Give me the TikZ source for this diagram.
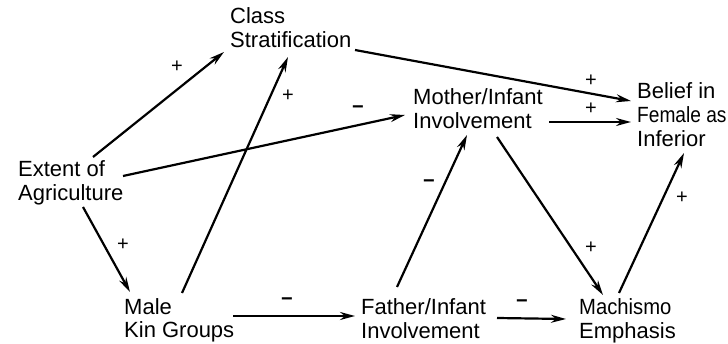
\documentclass[tikz,border=0pt]{standalone}
\usepackage{fontspec}
\setmainfont{Liberation Sans}
\newfontfamily\narrowA[FakeStretch=0.87]{Liberation Sans}
\newfontfamily\narrowB[FakeStretch=0.92]{Liberation Sans}
\usetikzlibrary{arrows.meta}
\begin{document}
\begin{tikzpicture}[x=1pt,y=-1pt,
  lbl/.style={inner sep=0pt,anchor=base west,align=left,font=\fontsize{22}{24}\selectfont},
  sgn/.style={inner sep=0pt,font=\fontsize{20}{20}\selectfont},
  neg/.style={inner sep=0pt,font=\fontsize{20}{20}\selectfont\bfseries},
  arr/.style={line width=2.2pt,-{Stealth[length=15pt,width=8pt]}}]
\useasboundingbox[fill=white] (0,0) rectangle (728,344);
% concepts (anchor = baseline of last line)
\node[lbl] (cls)  at (230,48)  {Class\\Stratification};
\node[lbl] (ext)  at (18,201)  {Extent of\\Agriculture};
\node[lbl] (mot)  at (413,129) {Mother/Infant\\Involvement};
\node[lbl] (bel)  at (637,147) {Belief in\\{\narrowA\fontsize{22}{24}\selectfont Female as}\\Inferior};
\node[lbl] (male) at (124,338) {Male\\Kin Groups};
\node[lbl] (fat)  at (361,339) {Father/Infant\\Involvement};
\node[lbl] (mach) at (579,339) {{\narrowB\fontsize{22}{24}\selectfont Machismo}\\Emphasis};
% connectors
\draw[arr] ([shift={(75,-44)}]ext.base west) -- ([shift={(-6,4)}]cls.base west);
\draw[arr] ([shift={(58,-45)}]male.base west) -- ([shift={(58,9)}]cls.base west);
\draw[arr] ([shift={(125,2)}]cls.base west) -- ([shift={(-6,-46)}]bel.base west);
\draw[arr] ([shift={(105,-25)}]ext.base west) -- ([shift={(-8,-14)}]mot.base west);
\draw[arr] ([shift={(65,6)}]ext.base west) -- ([shift={(6,-46)}]male.base west);
\draw[arr] ([shift={(109,-22)}]male.base west) -- ([shift={(-6,-23)}]fat.base west);
\draw[arr] ([shift={(36,-52)}]fat.base west) -- ([shift={(54,6)}]mot.base west);
\draw[arr] ([shift={(84,8)}]mot.base west) -- ([shift={(24,-44)}]mach.base west);
\draw[arr] ([shift={(136,-7)}]mot.base west) -- ([shift={(-6,-25)}]bel.base west);
\draw[arr] ([shift={(136,-21)}]fat.base west) -- ([shift={(-13,-20)}]mach.base west);
\draw[arr] ([shift={(40,-46)}]mach.base west) -- ([shift={(47,6)}]bel.base west);
% signs
\node[sgn] (s1)  at (177,67)  {+};
\node[sgn] (s2)  at (288,96)  {+};
\node[sgn] (s3)  at (591,81)  {+};
\node[neg] (s4)  at (358,110) {−};
\node[sgn] (s5)  at (123,245) {+};
\node[neg] (s6)  at (287,302) {−};
\node[neg] (s7)  at (429,184) {−};
\node[sgn] (s8)  at (591,248) {+};
\node[sgn] (s9)  at (591,109) {+};
\node[neg] (s10) at (522,304) {−};
\node[sgn] (s11) at (682,198) {+};
\end{tikzpicture}
\end{document}
